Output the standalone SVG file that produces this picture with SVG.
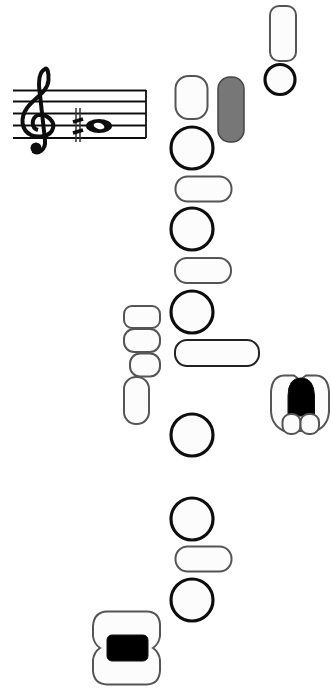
<svg xmlns="http://www.w3.org/2000/svg" width="331" height="690" viewBox="0 0 331 690">
<defs><filter id="soft" x="-5%" y="-5%" width="110%" height="110%"><feGaussianBlur stdDeviation="0.45"/></filter></defs>
<style>
.p{fill:#fcfcfc;stroke:#555;stroke-width:2}
.d{fill:#fcfcfc;stroke:#222;stroke-width:2}
.c{fill:#fcfcfc;stroke:#111;stroke-width:3.200}
.b{fill:#000;stroke:#111;stroke-width:1}
.s{stroke:#111;stroke-width:1.800;fill:none}
</style>
<rect width="331" height="690" fill="#fff"/>
<g filter="url(#soft)">
<g id="staff">
<path class="s" d="M13 90.500H146M13 101.500H146M13 113.500H146M13 125.500H146M13 138H146M146 90V138"/>
<path d="M38 130C31 128 31 118 38 115C47 113 55 122 53 128C51 137 38 138 31 135C21 130 20 118 27 108C33 99 48 92 48.500 80C49 72 47 67 45 69C39 72 38 82 40 95L45 140C46 150 38 155 33 151" fill="none" stroke="#111" stroke-width="4"/>
<circle cx="36" cy="148" r="5.500" fill="#111"/>
<path d="M76 108V142M80 108V142" stroke="#333" stroke-width="1.500"/>
<path d="M73 122L83 119M73 133L83 130" stroke="#111" stroke-width="3.800"/>
<ellipse cx="99" cy="126" rx="13" ry="7" fill="#111"/>
<ellipse cx="99" cy="126" rx="5.500" ry="3" fill="#fff" transform="rotate(15 99 126)"/>
</g>
<g id="connectors"/>
<g id="n1"><rect class="p" x="270" y="6" width="26" height="55" rx="9"/></g>
<g id="n2"><circle class="c" cx="280" cy="79.500" r="15"/></g>
<g id="n3"><rect class="p" x="175.500" y="76" width="32" height="43" rx="13"/></g>
<g id="n4"><rect x="218" y="77" width="26" height="65" rx="12" fill="#777" stroke="#444" stroke-width="1.500"/></g>
<g id="n5"><circle class="c" cx="192" cy="148" r="21"/></g>
<g id="n6"><rect class="p" x="175.500" y="176.500" width="56" height="25" rx="12"/></g>
<g id="n7"><circle class="c" cx="192" cy="229" r="21"/></g>
<g id="n8"><rect class="p" x="175" y="258" width="56" height="25" rx="12"/></g>
<g id="n9"><circle class="c" cx="192" cy="312" r="21"/></g>
<g id="n10"><rect class="p" x="124" y="306" width="36" height="22" rx="8"/></g>
<g id="n11"><rect class="p" x="124" y="329" width="36" height="23" rx="10"/></g>
<g id="n12"><rect class="p" x="130" y="353.500" width="30" height="23" rx="10"/></g>
<g id="n13"><rect class="p" x="124" y="377" width="25" height="47" rx="12"/></g>
<g id="n14"><rect class="d" x="175" y="340" width="84" height="26" rx="12"/></g>
<g id="n15"><circle class="c" cx="192" cy="435" r="21"/></g>
<g id="n16">
<path class="p" d="M271 392Q272 376 284 375.500H294L300 380L306 375.500H316Q328 376 329 392V410Q329 425 316 431H284Q271 425 271 410Z"/>
<path class="b" d="M288 396Q288 378 301 378Q314 378 314.500 396V416H288Z"/>
<rect class="p" x="282.500" y="414" width="18" height="20" rx="8"/>
<rect class="p" x="300.500" y="414" width="18.500" height="20" rx="8"/>
</g>
<g id="n17"><circle class="c" cx="192" cy="519" r="21"/></g>
<g id="n18"><rect class="p" x="175.500" y="546.500" width="56" height="25" rx="12"/></g>
<g id="n19"><circle class="c" cx="192" cy="600" r="21"/></g>
<g id="n20">
<path class="p" d="M93 626Q94 612 107 611.500H147Q159 612 160 624V636Q159 644 153 648Q159 652 160 660V671Q159 684 147 684.500H107Q94 684 93 671V660Q94 652 100 648Q94 644 93 636Z"/>
<rect class="b" x="107" y="635" width="41" height="26" rx="5"/>
</g>
</g>
</svg>
